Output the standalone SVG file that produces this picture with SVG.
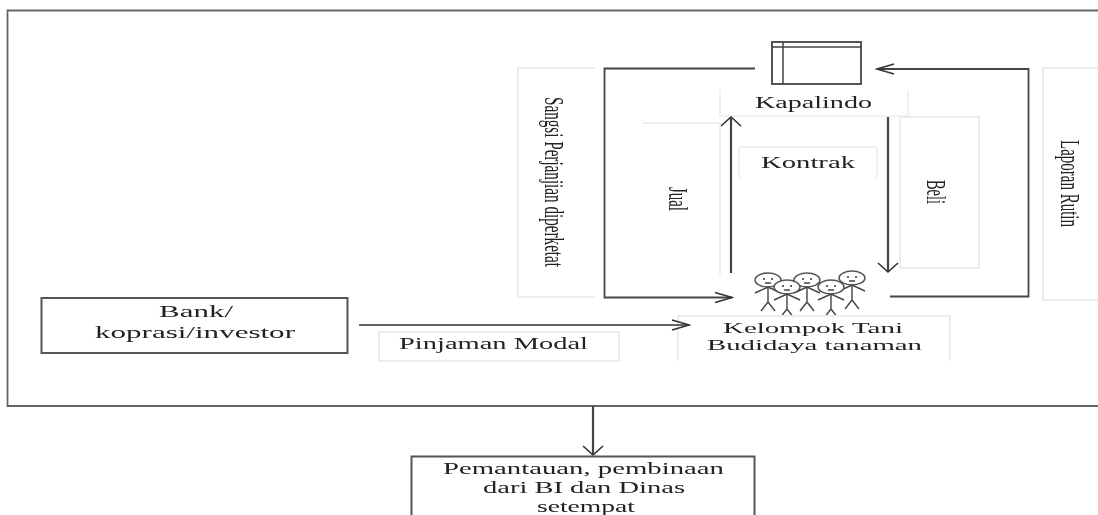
<svg xmlns="http://www.w3.org/2000/svg" width="1098" height="515" viewBox="0 0 1098 515">
<defs>
<filter id="s" x="0" y="0" width="100%" height="100%" filterUnits="userSpaceOnUse" primitiveUnits="userSpaceOnUse"><feGaussianBlur stdDeviation="0.4"/></filter>
<marker id="a" markerUnits="userSpaceOnUse" markerWidth="20" markerHeight="14" refX="18" refY="7" orient="auto"><path d="M1 2L18 7L1 12" fill="none" stroke="#333" stroke-width="1.400"/></marker>
<marker id="v" markerUnits="userSpaceOnUse" markerWidth="12" markerHeight="24" refX="10" refY="12" orient="auto"><path d="M1 2L10 12L1 22" fill="none" stroke="#333" stroke-width="1.600"/></marker>
<g id="p"><ellipse cx="0" cy="0" rx="13" ry="7" fill="#fff" stroke="#555" stroke-width="1.500"/><circle cx="-4" cy="-1" r="1" fill="#333"/><circle cx="4" cy="-1" r="1" fill="#333"/><path d="M-3 3H3M0 7V22M-13 13L0 7L13 13M-7 31L0 22L7 31" fill="none" stroke="#444" stroke-width="1.400"/></g>
</defs>
<style>
.t{font-family:"Liberation Serif","Times New Roman",serif;font-size:16.500px;fill:#222}
.r{font-size:28px}
.k{font-size:14px}
.b{fill:#fff;stroke:#555;stroke-width:2}
.l{fill:#fff;stroke:#ececec;stroke-width:2}
.c{fill:none;stroke:#444;stroke-width:2.200}
.n{fill:none;stroke:#333;stroke-width:1.300}
</style>
<rect width="1098" height="515" fill="#fff"/>
<g filter="url(#s)">
<path id="frame" d="M1098 10.500H7.500V406H1098" fill="none" stroke="#666" stroke-width="1.800"/>
<g id="sangsi"><path class="l" d="M595 68H518V297H595"/><text class="t r" transform="translate(545,97) rotate(90)" textLength="170" lengthAdjust="spacingAndGlyphs">Sangsi Perjanjian diperketat</text></g>
<g id="laporan"><path class="l" d="M1098 68H1043V300H1098"/><text class="t r" transform="translate(1061,140) rotate(90)" textLength="87" lengthAdjust="spacingAndGlyphs">Laporan Rutin</text></g>
<g id="jual"><path class="l" d="M642 123H720V275" style="stroke-width:1.500"/><text class="t r" transform="translate(669,187) rotate(90)" textLength="24" lengthAdjust="spacingAndGlyphs">Jual</text></g>
<g id="beli"><path class="l" d="M900 117H979V268H900Z"/><text class="t r" transform="translate(927,180) rotate(90)" textLength="24" lengthAdjust="spacingAndGlyphs">Beli</text></g>
<g id="kontrak"><path class="l" d="M739 178V147H877V178" style="stroke-width:1.500"/><text class="t" x="761" y="168" textLength="94" lengthAdjust="spacingAndGlyphs">Kontrak</text></g>
<g id="kapalindo"><path class="l" d="M720 90V116H908V90" style="stroke-width:1.500"/><rect class="b" x="772" y="42" width="89" height="42"/><path d="M772 47H861M783 42V84" fill="none" stroke="#444" stroke-width="1.500"/><text class="t" x="755" y="108" textLength="117" lengthAdjust="spacingAndGlyphs">Kapalindo</text></g>
<g id="bank"><rect class="b" x="41.500" y="298" width="306" height="55"/><text class="t" x="159" y="317" textLength="74" lengthAdjust="spacingAndGlyphs">Bank/</text><text class="t" x="95" y="338" textLength="200" lengthAdjust="spacingAndGlyphs">koprasi/investor</text></g>
<g id="pinjaman"><rect class="l" x="379" y="332" width="240" height="29"/><text class="t" x="399" y="349" textLength="189" lengthAdjust="spacingAndGlyphs">Pinjaman Modal</text></g>
<g id="kelompok"><use href="#p" x="768" y="280"/><use href="#p" x="852" y="278"/><use href="#p" x="807" y="280"/><use href="#p" x="787" y="287"/><use href="#p" x="831" y="287"/><path class="l" d="M678 361V316H950V361"/><text class="t k" x="723" y="333" textLength="180" lengthAdjust="spacingAndGlyphs">Kelompok Tani</text><text class="t k" x="707" y="350" textLength="215" lengthAdjust="spacingAndGlyphs">Budidaya tanaman</text></g>
<g id="pemantauan"><path class="b" d="M411.500 516V456.500H754.500V516"/><text class="t" x="443" y="474" textLength="281" lengthAdjust="spacingAndGlyphs">Pemantauan, pembinaan</text><text class="t" x="483" y="493" textLength="202" lengthAdjust="spacingAndGlyphs">dari BI dan Dinas</text><text class="t" x="537" y="512" textLength="98" lengthAdjust="spacingAndGlyphs">setempat</text></g>
<g id="connectors">
<path class="c" d="M755 68.500H604.500V297.500H732" marker-end="url(#a)" style="stroke-width:1.800"/>
<path class="c" d="M890 296.500H1028.500V69H877" marker-end="url(#a)" style="stroke-width:1.800"/>
<path class="c" d="M731 273V117" marker-end="url(#v)"/>
<path class="c" d="M888 117V272" marker-end="url(#v)"/>
<path class="n" d="M359 325H689" marker-end="url(#a)"/>
<path class="c" d="M593 406V455" marker-end="url(#v)"/>
</g>
</g>
</svg>
